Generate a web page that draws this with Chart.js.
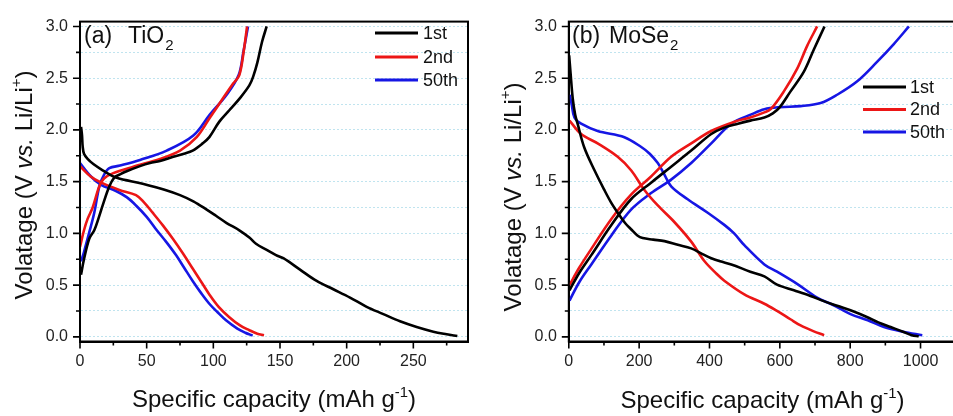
<!DOCTYPE html>
<html lang="en">
<head>
<meta charset="UTF-8">
<title>Charge/discharge profiles of TiO2 and MoSe2</title>
<script src="https://cdn.jsdelivr.net/npm/chart.js"></script>
<style>
  html, body { margin: 0; padding: 0; background: #fff; overflow: hidden; }
  body { width: 953px; height: 416px; position: relative; }
  canvas { position: absolute; top: 0; }
  #chartA { left: 0; }
  #chartB { left: 480px; }
</style>
</head>
<body>
<canvas id="chartA" width="480" height="416"></canvas>
<canvas id="chartB" width="480" height="416"></canvas>

<script>
// ---- tick values ----
const yTicks = [0, 0.25, 0.5, 0.75, 1, 1.25, 1.5, 1.75, 2, 2.25, 2.5, 2.75, 3];
const xTicksA = [0, 25, 50, 75, 100, 125, 150, 175, 200, 225, 250, 275];
const xTicksB = [0, 100, 200, 300, 400, 500, 600, 700, 800, 900, 1000];
const cycleLabels = ['1st', '2nd', '50th'];

// ---- (a) TiO2 : capacity (mAh/g) and voltage (V) ----
const tio2Dis1Cap = [0.8, 1.5, 2, 3, 5.7, 10, 17, 27, 47, 64, 75, 85, 95, 102, 110, 119.5, 127, 132, 140, 147, 152.5, 165, 177.5, 190, 202.5, 215, 227.5, 240, 252.5, 265, 275, 283];
const tio2Dis1V   = [2.03, 1.95, 1.84, 1.77, 1.72, 1.67, 1.61, 1.54, 1.48, 1.42, 1.37, 1.31, 1.23, 1.17, 1.10, 1.03, 0.96, 0.90, 0.84, 0.79, 0.76, 0.65, 0.54, 0.46, 0.38, 0.29, 0.22, 0.15, 0.095, 0.05, 0.025, 0.008];
const tio2Chg1Cap = [0.75, 3, 7, 10.7, 14, 17, 22, 25.7, 30, 35, 45, 52.5, 60, 70, 78, 84.5, 92, 97, 104.5, 112, 119.5, 127, 130, 133, 136.5, 140];
const tio2Chg1V   = [0.60, 0.75, 0.95, 1.03, 1.15, 1.27, 1.455, 1.54, 1.57, 1.60, 1.65, 1.68, 1.70, 1.74, 1.77, 1.80, 1.87, 1.93, 2.08, 2.19, 2.30, 2.43, 2.52, 2.65, 2.85, 3.0];
const tio2Dis2Cap = [0, 8, 16, 29.5, 42, 48, 54.5, 62, 69.5, 77, 84.5, 91, 97, 104, 112, 120, 127, 133, 138];
const tio2Dis2V   = [1.65, 1.55, 1.49, 1.42, 1.37, 1.30, 1.20, 1.08, 0.95, 0.81, 0.66, 0.53, 0.41, 0.29, 0.19, 0.11, 0.064, 0.03, 0.015];
const tio2Chg2Cap = [0, 3, 5.7, 9.5, 14.5, 18, 24.5, 40, 60, 75, 87.5, 97.5, 107.5, 115, 119.5, 123, 125.3];
const tio2Chg2V   = [0.87, 1.03, 1.14, 1.25, 1.455, 1.53, 1.58, 1.645, 1.72, 1.80, 1.93, 2.12, 2.31, 2.45, 2.53, 2.78, 3.0];
const tio2Dis50Cap = [0, 8.2, 15.75, 27, 35, 42, 50, 57, 64.5, 72, 78, 84.5, 91, 97, 103, 109.5, 118, 124, 129.5];
const tio2Dis50V   = [1.68, 1.55, 1.47, 1.41, 1.35, 1.27, 1.16, 1.04, 0.92, 0.79, 0.67, 0.54, 0.42, 0.32, 0.24, 0.16, 0.08, 0.04, 0.012];
const tio2Chg50Cap = [0.75, 3, 5.7, 10.7, 14.5, 18, 22, 30, 45, 65, 85, 97.5, 110, 119, 122.5, 126];
const tio2Chg50V   = [0.73, 0.82, 0.95, 1.20, 1.455, 1.565, 1.63, 1.655, 1.71, 1.80, 1.945, 2.15, 2.34, 2.53, 2.75, 3.0];

// ---- (b) MoSe2 ----
const moDis1Cap = [1, 5, 11, 18, 25, 44, 73, 101, 120, 139, 160, 177, 195, 210, 240, 272, 310, 348, 380, 405, 430, 462, 516, 556, 592, 640, 687, 725, 763, 810, 849, 880, 915, 950, 975, 995];
const moDis1V   = [2.72, 2.55, 2.31, 2.15, 2.06, 1.83, 1.61, 1.42, 1.30, 1.20, 1.10, 1.04, 0.98, 0.955, 0.94, 0.925, 0.89, 0.855, 0.80, 0.76, 0.73, 0.70, 0.63, 0.585, 0.505, 0.45, 0.395, 0.345, 0.30, 0.245, 0.19, 0.14, 0.095, 0.05, 0.015, 0.005];
const moChg1Cap = [2, 30, 64, 121, 177, 234, 291, 348, 405, 440, 481, 516, 556, 580, 600, 630, 668, 697, 727];
const moChg1V   = [0.45, 0.62, 0.79, 1.08, 1.33, 1.49, 1.645, 1.80, 1.96, 2.02, 2.06, 2.09, 2.12, 2.16, 2.22, 2.37, 2.56, 2.78, 3.0];
const moDis2Cap = [2, 35, 82, 139, 177, 215, 253, 300, 348, 386, 420, 443, 499, 556, 592, 630, 659, 695, 726];
const moDis2V   = [2.09, 1.96, 1.87, 1.74, 1.61, 1.42, 1.27, 1.11, 0.92, 0.73, 0.61, 0.54, 0.41, 0.32, 0.25, 0.17, 0.11, 0.055, 0.016];
const moChg2Cap = [2, 30, 64, 121, 177, 234, 291, 348, 405, 481, 516, 556, 574, 611, 649, 678, 706];
const moChg2V   = [0.50, 0.67, 0.85, 1.14, 1.375, 1.55, 1.74, 1.87, 1.99, 2.09, 2.12, 2.17, 2.20, 2.37, 2.59, 2.815, 3.0];
const moDis50Cap = [2, 8, 16, 35, 82, 158, 206, 230, 253, 270, 291, 338, 395, 443, 470, 499, 556, 592, 650, 706, 750, 801, 850, 896, 950, 1005];
const moDis50V   = [2.34, 2.25, 2.12, 2.06, 1.99, 1.93, 1.835, 1.77, 1.68, 1.58, 1.455, 1.33, 1.20, 1.08, 1.0, 0.886, 0.70, 0.63, 0.51, 0.38, 0.31, 0.22, 0.16, 0.095, 0.05, 0.016];
const moChg50Cap = [2, 30, 64, 121, 177, 234, 291, 348, 405, 462, 519, 556, 600, 659, 716, 763, 820, 877, 924, 967];
const moChg50V   = [0.35, 0.53, 0.70, 0.98, 1.23, 1.39, 1.52, 1.68, 1.87, 2.06, 2.15, 2.20, 2.22, 2.23, 2.26, 2.34, 2.47, 2.66, 2.83, 3.0];

const FONT = '"Liberation Sans", Arial, sans-serif';
const BLACK = '#000000';
const RED = 'rgb(236, 22, 22)';
const BLUE = 'rgb(22, 22, 228)';

// draws text made of pieces (normal / italic / superscript), centred on cx
function drawRich(ctx, parts, cx, baseY, size) {
    const fontOf = p => {
        const s = p.sup ? size * 0.62 : size;
        return (p.i ? 'italic ' : '') + s + 'px ' + FONT;
    };
    let total = 0;
    parts.forEach(p => { ctx.font = fontOf(p); total += ctx.measureText(p.t).width; });
    let x = cx - total / 2;
    ctx.textAlign = 'left';
    ctx.textBaseline = 'alphabetic';
    parts.forEach(p => {
        ctx.font = fontOf(p);
        const y = p.sup ? baseY - size * 0.42 : baseY;
        ctx.fillText(p.t, x, y);
        x += ctx.measureText(p.t).width;
    });
}

function buildPanel(canvasId, p) {
    const datasets = p.curves.map(c => ({
        data: c.cap.map((x, i) => ({ x: x, y: c.v[i] })),
        borderColor: c.color,
        borderWidth: 2.6,
        pointRadius: 0,
        showLine: true,
        tension: 0.35,
        fill: false
    }));

    const deco = {
        id: 'deco',
        afterDraw(chart) {
            const ctx = chart.ctx;
            const a = chart.chartArea;
            const xs = chart.scales.x, ys = chart.scales.y;
            ctx.save();

            // frame
            ctx.strokeStyle = '#000';
            ctx.lineWidth = 2;
            ctx.strokeRect(a.left, a.top, a.right - a.left, a.bottom - a.top);

            // major / minor tick marks, outward
            ctx.lineWidth = 1.6;
            ctx.beginPath();
            yTicks.forEach((v, i) => {
                const py = ys.getPixelForValue(v);
                const len = i % 2 === 0 ? 7 : 4;
                ctx.moveTo(a.left - len, py);
                ctx.lineTo(a.left, py);
            });
            p.xTicks.forEach(v => {
                const px = xs.getPixelForValue(v);
                const len = v % p.xMajor === 0 ? 7 : 4;
                ctx.moveTo(px, a.bottom);
                ctx.lineTo(px, a.bottom + len);
            });
            ctx.stroke();

            // legend
            const colors = [BLACK, RED, BLUE];
            ctx.lineWidth = 3;
            ctx.font = '18px ' + FONT;
            ctx.textBaseline = 'middle';
            ctx.textAlign = 'left';
            cycleLabels.forEach((lab, i) => {
                const y = p.legend.y[i];
                ctx.strokeStyle = colors[i];
                ctx.beginPath();
                ctx.moveTo(p.legend.x1, y);
                ctx.lineTo(p.legend.x2, y);
                ctx.stroke();
                ctx.fillStyle = '#111';
                ctx.fillText(lab, p.legend.tx, y + 1);
            });

            // panel label, e.g. (a)  TiO2
            ctx.fillStyle = '#111';
            ctx.textBaseline = 'alphabetic';
            ctx.font = '23px ' + FONT;
            ctx.fillText(p.tag, p.tagX, 43);
            ctx.fillText(p.name, p.nameX, 43);
            const nameEnd = p.nameX + ctx.measureText(p.name).width;
            ctx.font = '15px ' + FONT;
            ctx.fillText('2', nameEnd + 1, 50);

            // axis titles
            drawRich(ctx, [
                { t: 'Specific capacity (mAh g' }, { t: '-1', sup: true }, { t: ')' }
            ], p.xTitle.x, p.xTitle.y, 24);

            ctx.translate(p.yTitle.x, p.yTitle.y);
            ctx.rotate(-Math.PI / 2);
            drawRich(ctx, [
                { t: 'Volatage (V ' }, { t: 'vs.', i: true }, { t: ' Li/Li' }, { t: '+', sup: true }, { t: ')' }
            ], 0, 0, 24);

            ctx.restore();
        }
    };

    return new Chart(document.getElementById(canvasId), {
        type: 'scatter',
        data: { datasets: datasets },
        options: {
            responsive: false,
            animation: false,
            layout: { padding: { left: 0, top: 15, right: p.padRight, bottom: 0 } },
            plugins: { legend: { display: false }, tooltip: { enabled: false } },
            scales: {
                x: {
                    type: 'linear',
                    min: 0,
                    max: p.xMax,
                    afterBuildTicks: s => { s.ticks = p.xTicks.map(v => ({ value: v })); },
                    afterFit: s => { s.height = 416 - 341.5; },
                    grid: { display: false, drawTicks: false },
                    border: { display: true, color: '#000', width: 2 },
                    ticks: {
                        autoSkip: false,
                        maxRotation: 0,
                        padding: 10,
                        color: '#222',
                        font: { family: FONT, size: 16 },
                        callback: v => (v % p.xMajor === 0 ? String(v) : '')
                    }
                },
                y: {
                    type: 'linear',
                    min: -0.045,
                    max: 3.047,
                    afterBuildTicks: s => { s.ticks = yTicks.map(v => ({ value: v })); },
                    afterFit: s => { s.width = p.yWidth; },
                    grid: { display: true, drawTicks: false, color: 'rgba(140, 205, 225, 0.55)', lineWidth: 1 },
                    border: { display: true, color: '#000', width: 2, dash: [2, 2] },
                    ticks: {
                        autoSkip: false,
                        padding: 12,
                        color: '#222',
                        font: { family: FONT, size: 16 },
                        callback: v => (Math.abs(v * 2 - Math.round(v * 2)) < 1e-9 ? v.toFixed(1) : '')
                    }
                }
            }
        },
        plugins: [deco]
    });
}

// (a) TiO2
buildPanel('chartA', {
    curves: [
        { cap: tio2Dis1Cap, v: tio2Dis1V, color: BLACK },
        { cap: tio2Chg1Cap, v: tio2Chg1V, color: BLACK },
        { cap: tio2Dis2Cap, v: tio2Dis2V, color: RED },
        { cap: tio2Chg2Cap, v: tio2Chg2V, color: RED },
        { cap: tio2Dis50Cap, v: tio2Dis50V, color: BLUE },
        { cap: tio2Chg50Cap, v: tio2Chg50V, color: BLUE }
    ],
    xMax: 291,
    xTicks: xTicksA,
    xMajor: 50,
    yWidth: 80,
    padRight: 12,
    legend: { x1: 375, x2: 418, tx: 423, y: [33, 57, 80] },
    tag: '(a)', tagX: 84, name: 'TiO', nameX: 128,
    xTitle: { x: 274, y: 407 },
    yTitle: { x: 31.5, y: 185 }
});

// (b) MoSe2
buildPanel('chartB', {
    curves: [
        { cap: moDis1Cap, v: moDis1V, color: BLACK },
        { cap: moChg1Cap, v: moChg1V, color: BLACK },
        { cap: moDis2Cap, v: moDis2V, color: RED },
        { cap: moChg2Cap, v: moChg2V, color: RED },
        { cap: moDis50Cap, v: moDis50V, color: BLUE },
        { cap: moChg50Cap, v: moChg50V, color: BLUE }
    ],
    xMax: 1100,
    xTicks: xTicksB,
    xMajor: 200,
    yWidth: 88.8,
    padRight: 4.3,
    legend: { x1: 383, x2: 426, tx: 430, y: [87, 109.5, 132] },
    tag: '(b)', tagX: 92, name: 'MoSe', nameX: 129,
    xTitle: { x: 282.5, y: 408 },
    yTitle: { x: 40.5, y: 197 }
});
</script>
</body>
</html>
